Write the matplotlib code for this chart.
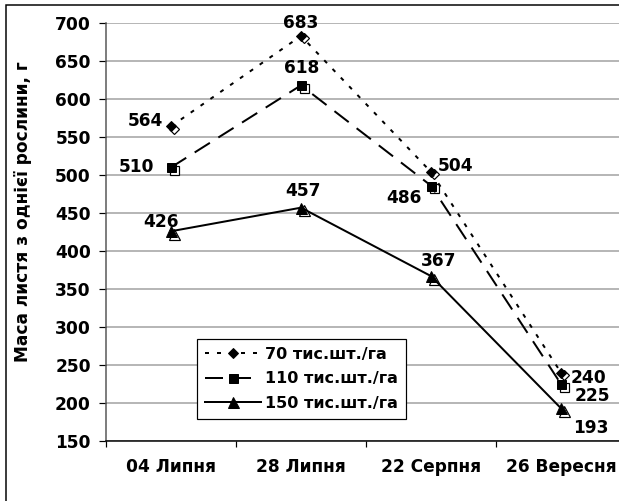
import numpy as np
import matplotlib
matplotlib.use("Agg")
import matplotlib.pyplot as plt
import matplotlib.transforms as mtransforms
from matplotlib.patches import Rectangle

plt.rcParams['font.family'] = ['DejaVu Sans']
plt.rcParams['font.weight'] = 'bold'

# дані
dates = ['04 Липня', '28 Липня', '22 Серпня', '26 Вересня']
series_names = ['70 тис.шт./га', '110 тис.шт./га', '150 тис.шт./га']
mass_70 = [564, 683, 504, 240]
mass_110 = [510, 618, 486, 225]
mass_150 = [426, 457, 367, 193]

# зсуви підписів (в пікселях)
offs_70 = [(-26, 5), (0, 13), (25, 6), (28, -5)]
offs_110 = [(-34, 0), (1, 17), (-27, -12), (31, -12)]
offs_150 = [(-10, 9), (2, 17), (8, 15), (30, -20)]

x = np.arange(len(dates)) + 0.5

fig = plt.figure(figsize=(619 / 72, 501 / 72), dpi=72)
ax = fig.add_axes([106 / 619, 1 - 441 / 501, 520 / 619, 418 / 501])

styles = [
    dict(ls=(0, (2, 4)), marker='D', ms=7),
    dict(ls=(0, (9, 5)), marker='s', ms=9),
    dict(ls='-', marker='^', ms=11),
]
data = [mass_70, mass_110, mass_150]
offs = [offs_70, offs_110, offs_150]

shadow = mtransforms.offset_copy(ax.transData, fig=fig, x=2.5, y=-2.5, units='dots')

for vals, st, name, off in zip(data, styles, series_names, offs):
    # тінь маркерів
    ax.plot(x, vals, ls='none', marker=st['marker'], ms=st['ms'], mfc='white',
            mec='black', mew=1.2, transform=shadow, zorder=3, clip_on=False)
    ax.plot(x, vals, color='black', lw=2, ls=st['ls'], marker=st['marker'],
            ms=st['ms'], mfc='black', mec='black', label=name, zorder=4, clip_on=False)
    for xi, v, o in zip(x, vals, off):
        ax.annotate(str(v), (xi, v), xytext=o, textcoords='offset points',
                    ha='center', va='center', fontsize=17, fontweight='bold', zorder=5)

ax.set_xlim(0, 4)
ax.set_ylim(150, 700)
ax.set_yticks(np.arange(150, 701, 50))
ax.yaxis.grid(True, color='#a0a0a0', lw=1.5)
ax.set_axisbelow(True)

ax.set_xticks([0, 1, 2, 3, 4])
ax.set_xticklabels([])
ax.set_xticks(x, minor=True)
ax.set_xticklabels(dates, minor=True, fontsize=17, fontweight='bold')
ax.tick_params(axis='x', which='minor', length=0, pad=17)
ax.tick_params(axis='x', which='major', direction='out', length=6, width=1.2)
ax.tick_params(axis='y', direction='out', length=7, width=1.2, labelsize=17, pad=8)

for s in ['top', 'right']:
    ax.spines[s].set_visible(False)
ax.spines['left'].set_color('#555555')
ax.spines['left'].set_linewidth(1.5)
ax.spines['bottom'].set_linewidth(1.5)

ax.set_ylabel('Маса листя з однієї рослини, г', fontsize=17, fontweight='bold')
ax.yaxis.set_label_coords(-74 / 520, (441 - 212) / 418)

leg = ax.legend(loc='lower left', bbox_to_anchor=(0.175, 0.053), fontsize=16,
                frameon=True, fancybox=False, edgecolor='black', framealpha=1,
                handlelength=3.5, handletextpad=0.25, borderpad=0.5, labelspacing=0.6,
                borderaxespad=0)
leg.get_frame().set_linewidth(1.2)

# рамка навколо діаграми
fig.patches.append(Rectangle((6 / 619, -0.1), 2, 1.1 - 5 / 501, transform=fig.transFigure,
                             fill=False, edgecolor='black', lw=1.5))

fig.savefig('out.png', dpi=72)
